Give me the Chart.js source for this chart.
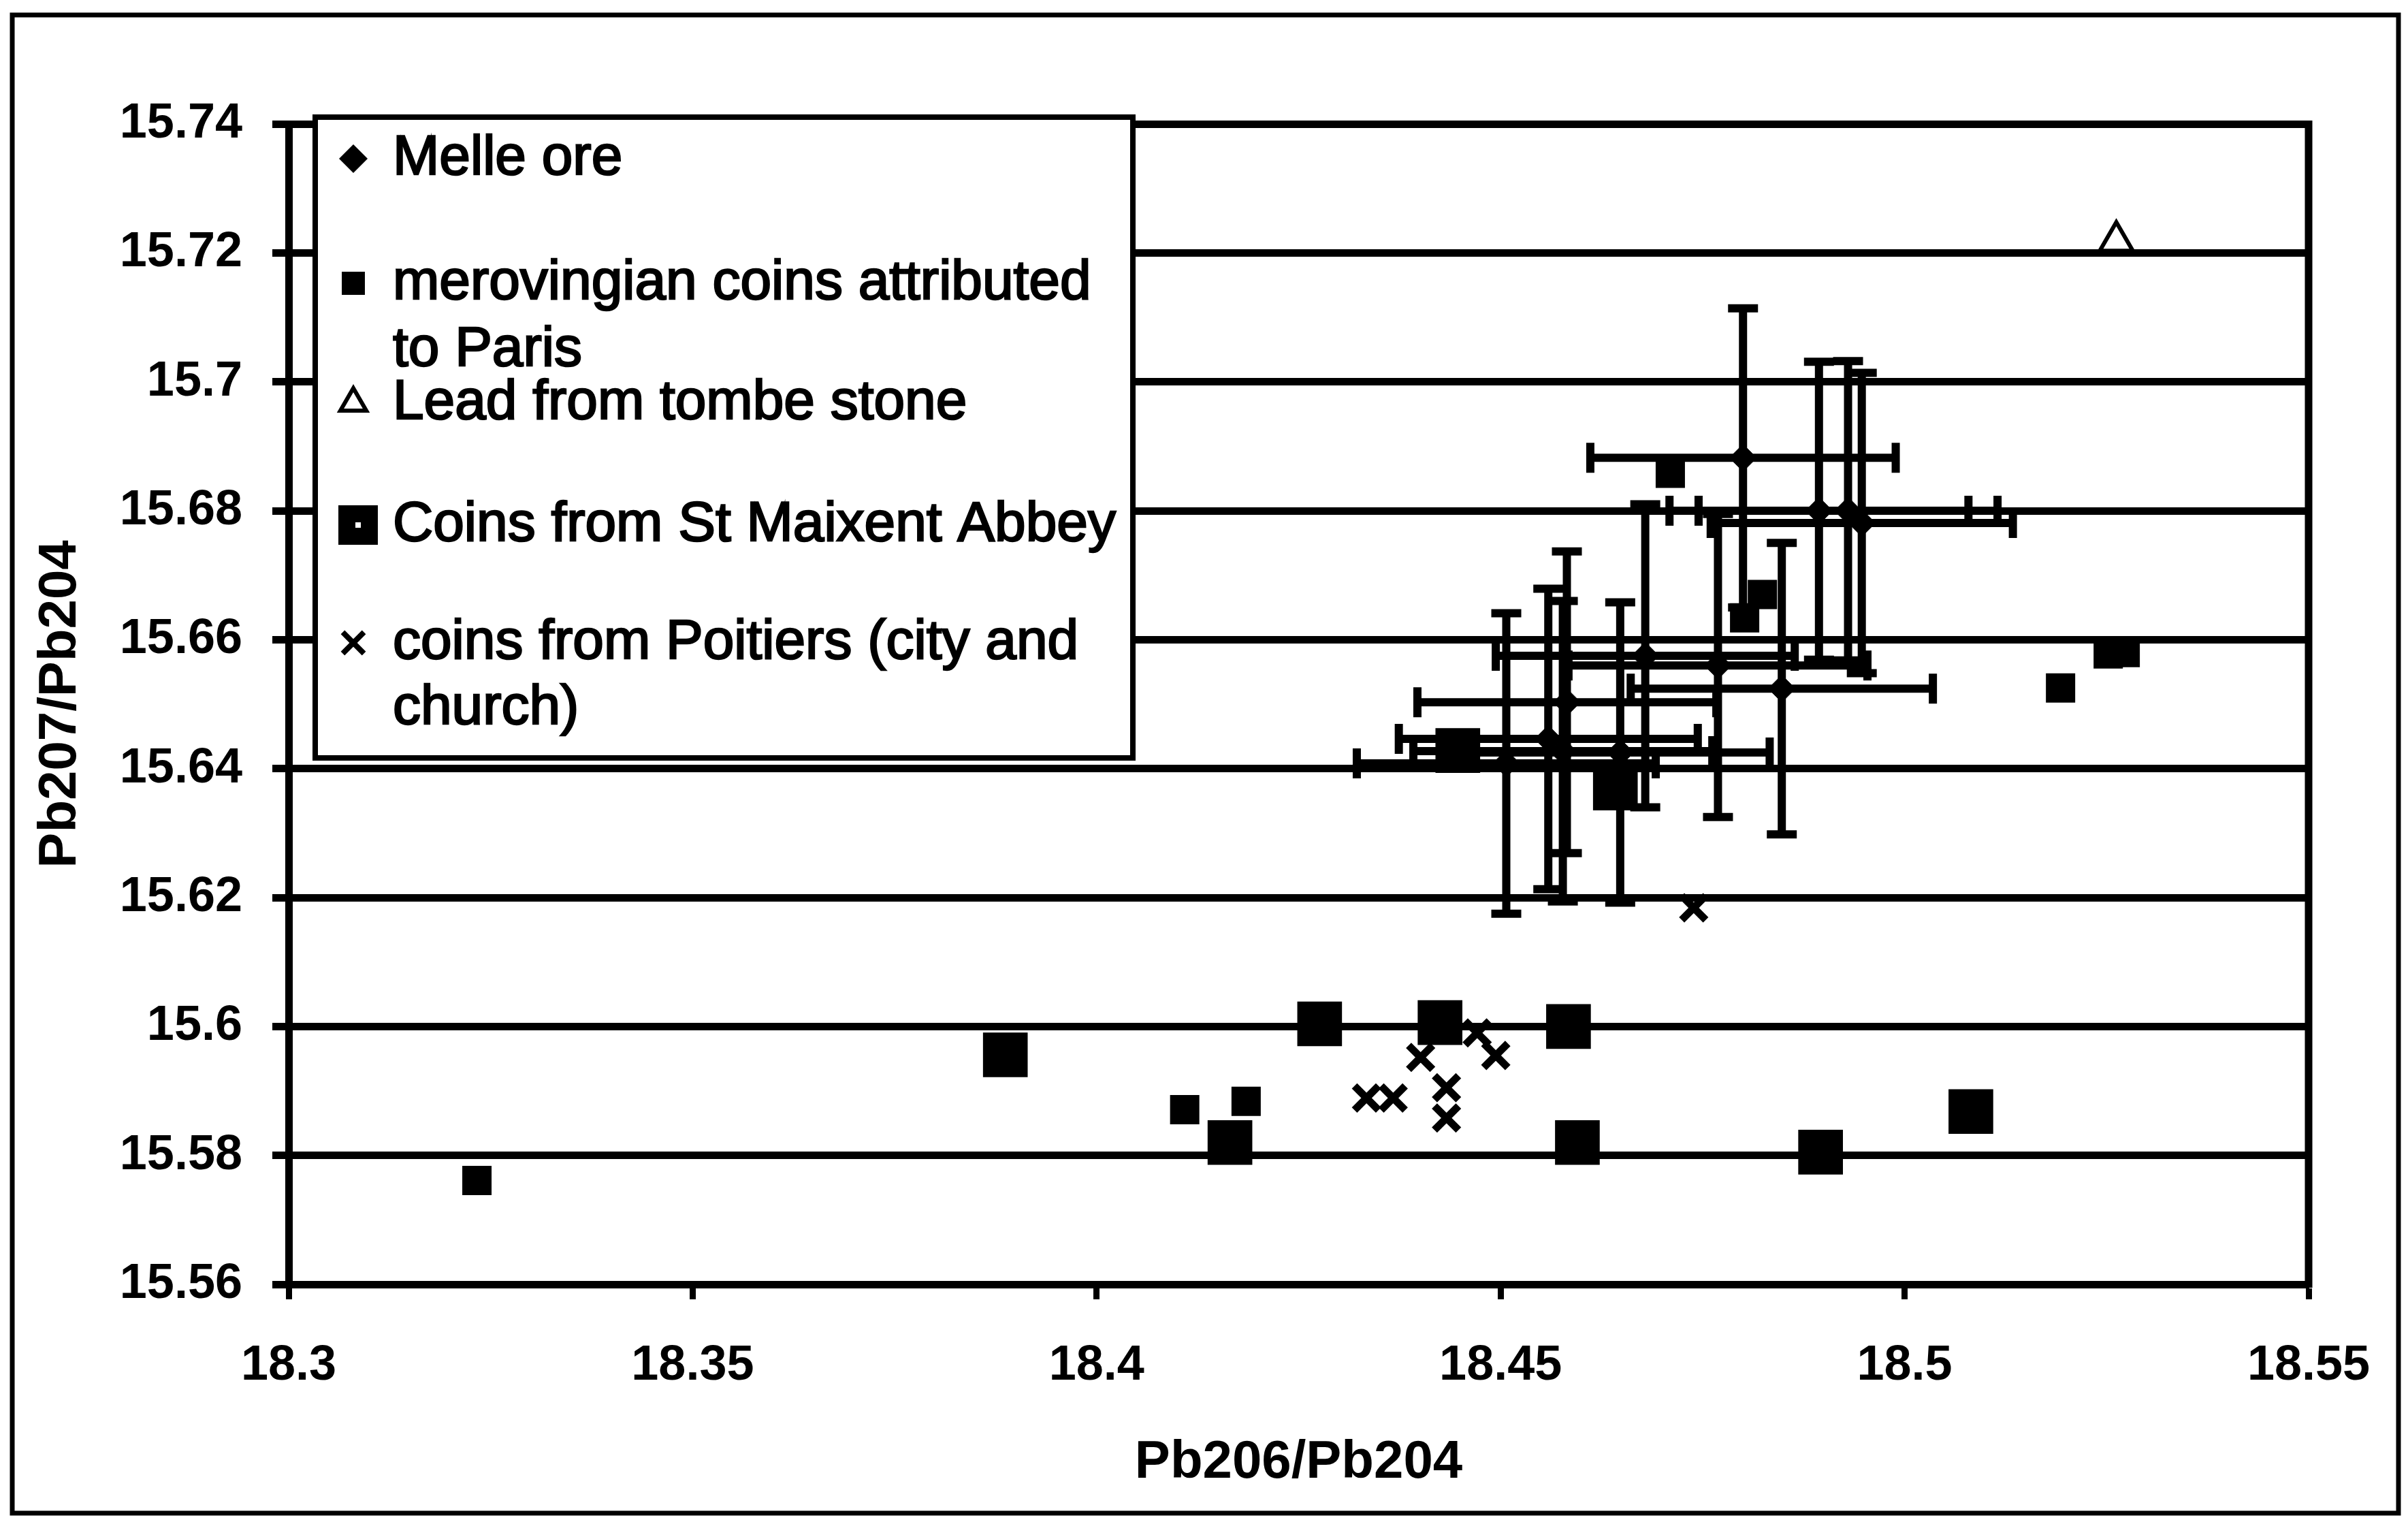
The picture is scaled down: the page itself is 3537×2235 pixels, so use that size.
<!DOCTYPE html>
<html>
<head>
<meta charset="utf-8">
<title>Pb207/Pb204 vs Pb206/Pb204</title>
<script src="https://cdn.jsdelivr.net/npm/chart.js@4.4.1/dist/chart.umd.min.js"></script>
<style>
  html, body { margin: 0; padding: 0; background: #fff; }
  #wrap { width: 3537px; height: 2235px; }
</style>
</head>
<body>
<div id="wrap"><canvas id="chart1" width="3537" height="2235"></canvas></div>
<script>
// values

// Melle ore (with error bars in both directions)
var melleX = [18.4800, 18.4894, 18.4930, 18.4947, 18.4679, 18.4769, 18.4848, 18.4582, 18.4559, 18.4577, 18.4648, 18.4507];
var melleY = [15.6882, 15.6800, 15.6800, 15.6781, 15.6575, 15.6560, 15.6524, 15.6503, 15.6446, 15.6427, 15.6425, 15.6408];
var melleXErr = [0.0189, 0.0185, 0.0185, 0.0187, 0.0185, 0.0185, 0.0187, 0.0185, 0.0185, 0.0185, 0.0185, 0.0185];
var melleYErr = [0.0232, 0.0231, 0.0232, 0.0233, 0.0235, 0.0235, 0.0226, 0.0234, 0.0233, 0.0233, 0.0233, 0.0233];

// merovingian coins attributed to Paris
var parisX = [18.4710, 18.4824, 18.4802, 18.5193, 18.5252, 18.5273, 18.4109, 18.4185, 18.3233];
var parisY = [15.6858, 15.6670, 15.6634, 15.6525, 15.6578, 15.6580, 15.5871, 15.5884, 15.5761];

// lead from tombe stone
var tombX = [18.5262];
var tombY = [15.7218];

// coins from St Maixent Abbey
var maixentX = [18.3887, 18.4276, 18.4165, 18.4425, 18.4584, 18.4595, 18.4896, 18.5082, 18.4447, 18.4642];
var maixentY = [15.5956, 15.6004, 15.5820, 15.6006, 15.6000, 15.5820, 15.5805, 15.5868, 15.6428, 15.6370];

// coins from Poitiers (city and church)
var poitiersX = [18.4739, 18.4401, 18.4494, 18.4471, 18.4334, 18.4367, 18.4433, 18.4433];
var poitiersY = [15.6184, 15.5952, 15.5955, 15.5990, 15.5889, 15.5889, 15.5905, 15.5858];

var seriesNames = ["Melle ore", "merovingian coins attributed to Paris", "Lead from tombe stone", "Coins from St Maixent Abbey", "coins from Poitiers (city and church)"];
var legendLines = [["Melle ore"], ["merovingian coins attributed", "to Paris"], ["Lead from tombe stone"], ["Coins from St Maixent Abbey"], ["coins from Poitiers (city and", "church)"]];

var xTickValues = [18.3, 18.35, 18.4, 18.45, 18.5, 18.55];
var xTickLabels = ["18.3", "18.35", "18.4", "18.45", "18.5", "18.55"];
var yTickValues = [15.56, 15.58, 15.6, 15.62, 15.64, 15.66, 15.68, 15.7, 15.72, 15.74];
var yTickLabels = ["15.56", "15.58", "15.6", "15.62", "15.64", "15.66", "15.68", "15.7", "15.72", "15.74"];

var xTitle = "Pb206/Pb204";
var yTitle = "Pb207/Pb204";

var FONT = "'Liberation Sans', Arial, Helvetica, sans-serif";

//turn two lists into scatter points
function toPoints(xs, ys) {
	var pts = [];
	for (var i = 0; i < xs.length; i++) {
		pts.push({ x: xs[i], y: ys[i] });
	}
	return pts;
}

//draws the error bars of the Melle ore series under the markers
var errorBarPlugin = {
	id: "errorBars",
	beforeDatasetsDraw: function(chart) {
		var ctx = chart.ctx;
		var xs = chart.scales.x;
		var ys = chart.scales.y;
		var cap = 22;
		ctx.save();
		ctx.strokeStyle = "#000";
		ctx.lineWidth = 12;
		ctx.lineCap = "butt";
		for (var i = 0; i < melleX.length; i++) {
			var cx = xs.getPixelForValue(melleX[i]);
			var cy = ys.getPixelForValue(melleY[i]);
			var left = xs.getPixelForValue(melleX[i] - melleXErr[i]);
			var right = xs.getPixelForValue(melleX[i] + melleXErr[i]);
			var top = ys.getPixelForValue(melleY[i] + melleYErr[i]);
			var bottom = ys.getPixelForValue(melleY[i] - melleYErr[i]);
			ctx.beginPath();
			ctx.moveTo(left, cy); ctx.lineTo(right, cy);
			ctx.moveTo(cx, top); ctx.lineTo(cx, bottom);
			ctx.moveTo(left, cy - cap); ctx.lineTo(left, cy + cap);
			ctx.moveTo(right, cy - cap); ctx.lineTo(right, cy + cap);
			ctx.moveTo(cx - cap, top); ctx.lineTo(cx + cap, top);
			ctx.moveTo(cx - cap, bottom); ctx.lineTo(cx + cap, bottom);
			ctx.stroke();
		}
		ctx.restore();
	}
};

//draws a marker, same shapes as the datasets use
function drawMarker(ctx, style, radius, borderWidth, fill, x, y) {
	ctx.save();
	ctx.fillStyle = fill;
	ctx.strokeStyle = "#000";
	ctx.lineWidth = borderWidth;
	Chart.helpers.drawPoint(ctx, { pointStyle: style, radius: radius, rotation: 0, borderWidth: borderWidth }, x, y);
	ctx.restore();
}

//frame, right edge of the plot and the boxed legend
var framePlugin = {
	id: "frame",
	afterDraw: function(chart) {
		var ctx = chart.ctx;
		var area = chart.chartArea;
		ctx.save();
		ctx.strokeStyle = "#000";

		//right edge of the plot area
		ctx.lineWidth = 11;
		ctx.beginPath();
		ctx.moveTo(area.right, area.top - 5);
		ctx.lineTo(area.right, area.bottom + 5);
		ctx.stroke();

		//outer frame of the figure
		ctx.lineWidth = 7;
		ctx.strokeRect(18, 22, 3505, 2200);

		//legend box
		ctx.fillStyle = "#fff";
		ctx.fillRect(463, 172, 1201, 941);
		ctx.lineWidth = 8;
		ctx.strokeRect(463, 172, 1201, 941);

		var rows = [
			{ style: "rectRot", r: 21, bw: 0, fill: "#000", mx: 519, ys: [233] },
			{ style: "rect", r: 24, bw: 0, fill: "#000", mx: 519, ys: [416, 514] },
			{ style: "triangle", r: 22, bw: 6, fill: "#fff", mx: 519, ys: [592] },
			{ style: "rect", r: 41, bw: 0, fill: "#000", mx: 526, ys: [771] },
			{ style: "crossRot", r: 22, bw: 8, fill: "#000", mx: 519, ys: [944, 1040] }
		];
		ctx.font = "82px " + FONT;
		ctx.textBaseline = "middle";
		ctx.textAlign = "left";
		for (var i = 0; i < rows.length; i++) {
			var row = rows[i];
			drawMarker(ctx, row.style, row.r, row.bw, row.fill, row.mx, row.ys[0]);
			if (i === 3) {
				//small white dot in the St Maixent legend square
				ctx.fillStyle = "#fff";
				ctx.fillRect(row.mx - 4, row.ys[0] - 4, 8, 8);
			}
			ctx.fillStyle = "#000";
			ctx.lineWidth = 2.5;
			for (var j = 0; j < legendLines[i].length; j++) {
				ctx.fillText(legendLines[i][j], 577, row.ys[j]);
				ctx.strokeText(legendLines[i][j], 577, row.ys[j]);
			}
		}
		ctx.restore();
	}
};

var ctx = document.getElementById("chart1");

var chart = new Chart(ctx, {
	type: "scatter",
	data: {
		datasets: [
			{
				label: seriesNames[0],
				data: toPoints(melleX, melleY),
				pointStyle: "rectRot",
				radius: 20,
				backgroundColor: "#000",
				borderColor: "#000",
				borderWidth: 1
			},
			{
				label: seriesNames[1],
				data: toPoints(parisX, parisY),
				pointStyle: "rect",
				radius: 29,
				backgroundColor: "#000",
				borderColor: "#000",
				borderWidth: 2
			},
			{
				label: seriesNames[2],
				data: toPoints(tombX, tombY),
				pointStyle: "triangle",
				radius: 28,
				backgroundColor: "#fff",
				borderColor: "#000",
				borderWidth: 6
			},
			{
				label: seriesNames[3],
				data: toPoints(maixentX, maixentY),
				pointStyle: "rect",
				radius: 45,
				backgroundColor: "#000",
				borderColor: "#000",
				borderWidth: 2
			},
			{
				label: seriesNames[4],
				data: toPoints(poitiersX, poitiersY),
				pointStyle: "crossRot",
				radius: 25,
				backgroundColor: "#000",
				borderColor: "#000",
				borderWidth: 11
			}
		]
	},
	options: {
		responsive: false,
		animation: false,
		devicePixelRatio: 1,
		layout: { padding: { top: 182, right: 146, bottom: 0, left: 0 } },
		plugins: {
			legend: { display: false },
			tooltip: { enabled: false }
		},
		scales: {
			x: {
				type: "linear",
				min: 18.3,
				max: 18.55,
				afterBuildTicks: function(scale) {
					scale.ticks = xTickValues.map(function(v) { return { value: v }; });
				},
				afterFit: function(scale) { scale.height = 349; },
				ticks: {
					color: "#000",
					padding: 55,
					font: { family: FONT, size: 72, weight: "bold" },
					maxRotation: 0,
					autoSkip: false,
					callback: function(value, index) { return xTickLabels[index]; }
				},
				grid: {
					drawOnChartArea: false,
					drawTicks: true,
					tickLength: 22,
					tickColor: "#000",
					tickWidth: 9
				},
				border: { display: true, color: "#000", width: 11 },
				title: {
					display: true,
					text: xTitle,
					color: "#000",
					font: { family: FONT, size: 78, weight: "bold" },
					padding: { top: 0, bottom: 40 }
				}
			},
			y: {
				type: "linear",
				min: 15.56,
				max: 15.74,
				afterBuildTicks: function(scale) {
					scale.ticks = yTickValues.map(function(v) { return { value: v }; });
				},
				afterFit: function(scale) { scale.width = 424; },
				ticks: {
					color: "#000",
					padding: 44,
					font: { family: FONT, size: 72, weight: "bold" },
					autoSkip: false,
					callback: function(value, index) { return yTickLabels[index]; }
				},
				grid: {
					color: "#000",
					lineWidth: 11,
					drawTicks: true,
					tickLength: 24,
					tickColor: "#000",
					tickWidth: 11
				},
				border: { display: true, color: "#000", width: 11 },
				title: {
					display: true,
					text: yTitle,
					color: "#000",
					font: { family: FONT, size: 78, weight: "bold" },
					padding: { top: 43, bottom: 0 }
				}
			}
		}
	},
	plugins: [errorBarPlugin, framePlugin]
});
</script>
</body>
</html>
